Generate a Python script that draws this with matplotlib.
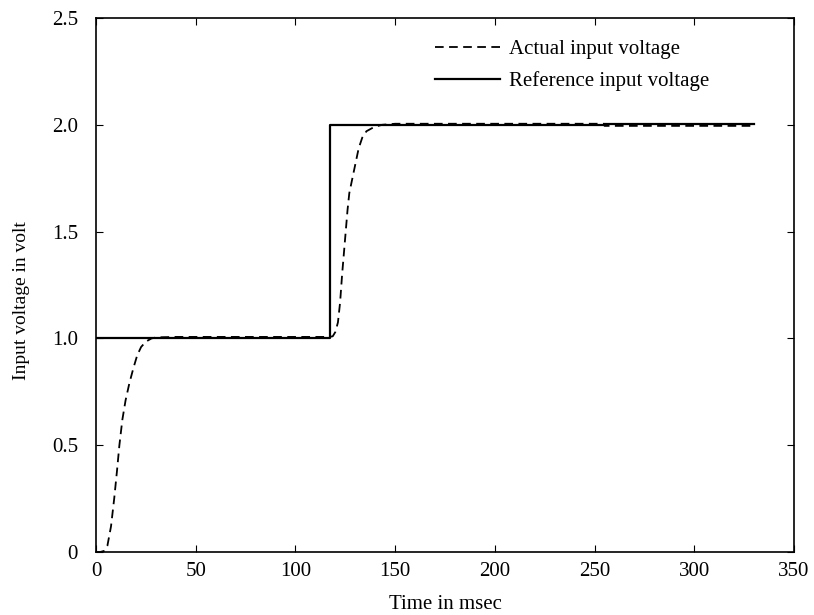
import matplotlib.pyplot as plt

plt.rcParams['font.family'] = ['Liberation Serif', 'DejaVu Serif']

# reference (commanded) input voltage
ref_t = [0, 117.5, 117.5, 255, 255, 330]
ref_v = [1.0, 1.0, 2.0, 2.0, 2.005, 2.005]

# actual input voltage
act_t = [0, 2, 4, 5.7, 7.5, 9.1, 10.5, 11.7, 13.2, 14.8, 16.7, 18.7, 20.6,
         22.6, 25, 27.8, 30.4, 40, 60, 80, 100, 117, 118.7, 120, 121.3, 122.4,
         123.4, 124.3, 125.2, 126.1, 127, 129, 131.7, 133.5, 135.6, 139.5,
         143.4, 150, 200, 255, 255, 330]
act_v = [0, 0, 0.005, 0.03, 0.12, 0.25, 0.38, 0.5, 0.62, 0.71, 0.79, 0.86,
         0.92, 0.96, 0.985, 1.0, 1.005, 1.007, 1.007, 1.007, 1.007, 1.007, 1.01,
         1.03, 1.075, 1.17, 1.3, 1.4, 1.5, 1.6, 1.68, 1.77, 1.89, 1.94, 1.97,
         1.99, 2.0, 2.005, 2.005, 2.005, 1.995, 1.995]

x_ticks = [0, 50, 100, 150, 200, 250, 300, 350]
y_ticks = [0, 0.5, 1.0, 1.5, 2.0, 2.5]
y_labels = ['0', '0.5', '1.0', '1.5', '2.0', '2.5']

fs = 15

fig = plt.figure(figsize=(8.14, 6.15), dpi=100)
ax = fig.add_axes([0.118, 0.1024, 0.8574, 0.8683])

ax.plot(act_t, act_v, color='black', linestyle=(0, (4.8, 3)), linewidth=1.3,
        label='Actual input voltage')
ax.plot(ref_t, ref_v, color='black', linestyle='-', linewidth=1.6,
        label='Reference input voltage')

ax.set_xlim(0, 350)
ax.set_ylim(0, 2.5)
ax.set_xticks(x_ticks)
ax.set_xticklabels([str(x) for x in x_ticks])
ax.set_yticks(y_ticks)
ax.set_yticklabels(y_labels)
ax.tick_params(direction='in', length=5, width=0.8, top=True, right=True,
               labelsize=fs)
ax.tick_params(axis='x', pad=7)
ax.tick_params(axis='y', pad=13)
for s in ax.spines.values():
    s.set_linewidth(1.2)

ax.set_xlabel('Time in msec', fontsize=fs, labelpad=10)
ax.set_ylabel('Input voltage in volt', fontsize=14)
ax.yaxis.set_label_coords(-0.095, 0.47)

ax.legend(loc='upper left', bbox_to_anchor=(0.486, 0.960), frameon=False,
          fontsize=fs, handlelength=3.1, handletextpad=0.45,
          labelspacing=0.58, borderpad=0, borderaxespad=0)

fig.savefig('out.png', dpi=100)
